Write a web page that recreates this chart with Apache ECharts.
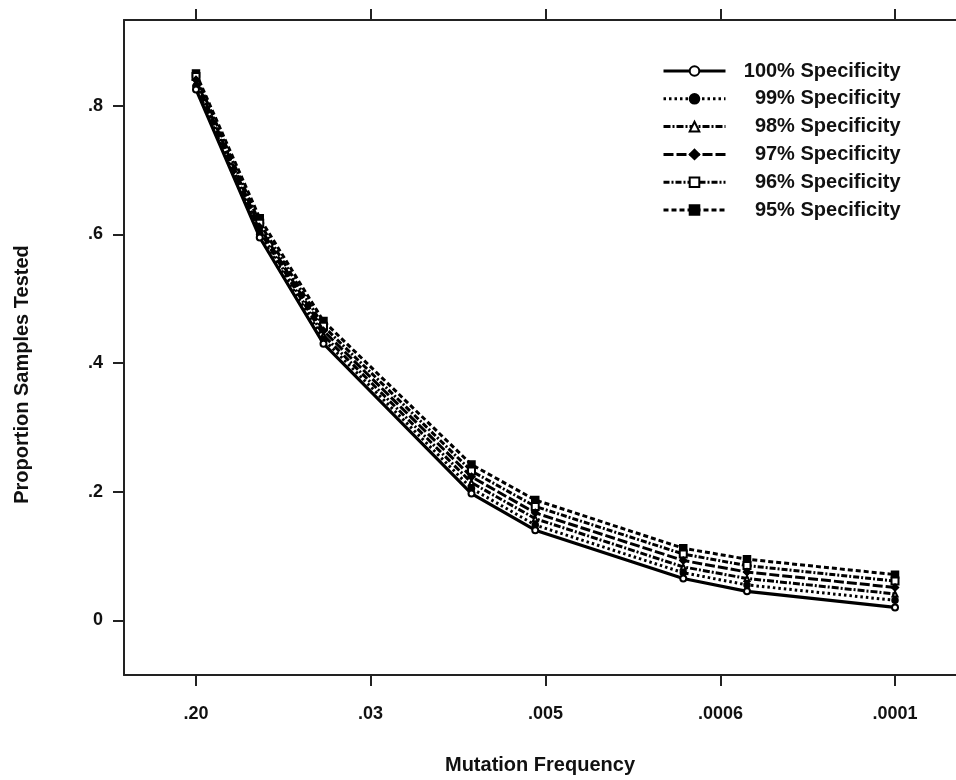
<!DOCTYPE html>
<html>
<head>
<meta charset="utf-8">
<script src="https://cdn.jsdelivr.net/npm/echarts@6/dist/echarts.min.js"></script>
<style>
html,body{margin:0;padding:0;background:#fff;}
#chart{width:956px;height:780px;}
</style>
</head>
<body>
<div id="chart"></div>
<script>
// Mutation frequencies of the data points (plotted on a reversed log scale)
const frequencies = [0.2, 0.1, 0.05, 0.01, 0.005, 0.001, 0.0005, 0.0001];
// Proportion of samples tested, by specificity
const spec100 = [0.825, 0.595, 0.430, 0.197, 0.140, 0.065, 0.045, 0.020];
const spec99  = [0.830, 0.600, 0.437, 0.205, 0.148, 0.074, 0.055, 0.031];
const spec98  = [0.835, 0.605, 0.443, 0.214, 0.158, 0.083, 0.065, 0.041];
const spec97  = [0.840, 0.611, 0.450, 0.223, 0.167, 0.093, 0.075, 0.051];
const spec96  = [0.845, 0.617, 0.457, 0.232, 0.177, 0.103, 0.085, 0.061];
const spec95  = [0.850, 0.625, 0.465, 0.242, 0.187, 0.112, 0.095, 0.071];
const seriesNames = ['100% Specificity','99% Specificity','98% Specificity','97% Specificity','96% Specificity','95% Specificity'];
// x tick positions (-log10 of frequency) and labels
const xTickPositions = [0.699, 1.523, 2.349, 3.176, 4.0];
const xTickLabels = ['.20', '.03', '.005', '.0006', '.0001'];
const yTickValues = [0, 0.2, 0.4, 0.6, 0.8];
const yTickLabels = ['0', '.2', '.4', '.6', '.8'];

const allSeries = [spec100, spec99, spec98, spec97, spec96, spec95];
const toX = f => -Math.log10(f);
const styles = [
  {type: 'solid', symbol: 'emptyCircle', size: 6, width: 3.2},
  {type: [2.5, 3], symbol: 'circle', size: 6, width: 3},
  {type: [7, 2, 2, 2], symbol: 'emptyTriangle', size: 5, width: 3},
  {type: [10, 3], symbol: 'diamond', size: 7, width: 3},
  {type: [6, 2, 2, 2], symbol: 'emptyRect', size: 7, width: 3},
  {type: [5, 3], symbol: 'rect', size: 7, width: 3}
];
const font = '"Liberation Sans", Arial, Helvetica, sans-serif';

const chart = echarts.init(document.getElementById('chart'), null, {renderer: 'canvas'});
const xMin = 0.359, xMax = 4.288;
const labelMap = {};
xTickPositions.forEach((p, i) => { labelMap[p] = xTickLabels[i]; });
const yLabelMap = {};
yTickValues.forEach((v, i) => { yLabelMap[v] = yTickLabels[i]; });

chart.setOption({
  animation: false,
  backgroundColor: '#fff',
  grid: {left: 124, right: 0, top: 20, bottom: 103, containLabel: false},
  legend: {
    show: true,
    orient: 'vertical',
    left: 657,
    top: 56,
    itemWidth: 62,
    itemHeight: 12,
    itemGap: 7.8,
    data: seriesNames,
    lineStyle: {width: 3},
    formatter: name => '{t|' + name + '}',
    textStyle: {
      rich: {
        t: {width: 170, align: 'right', fontSize: 20, fontWeight: 'bold', fontFamily: font, color: '#111', lineHeight: 20}
      }
    }
  },
  xAxis: [{
    type: 'value',
    min: xMin, max: xMax,
    position: 'bottom',
    name: 'Mutation Frequency',
    nameLocation: 'middle',
    nameGap: 80,
    nameTextStyle: {fontSize: 20, fontWeight: 'bold', fontFamily: font, color: '#111'},
    axisLine: {show: true, onZero: false, lineStyle: {color: '#222', width: 2}},
    axisTick: {show: true, customValues: xTickPositions, length: 11, lineStyle: {color: '#222', width: 2}},
    axisLabel: {
      show: true, customValues: xTickPositions, margin: 30,
      fontSize: 18, fontWeight: 'bold', fontFamily: font, color: '#111',
      formatter: v => labelMap[v] !== undefined ? labelMap[v] : ''
    },
    splitLine: {show: false}
  }, {
    type: 'value',
    min: xMin, max: xMax,
    position: 'top',
    axisLine: {show: true, onZero: false, lineStyle: {color: '#222', width: 2}},
    axisTick: {show: true, customValues: xTickPositions, length: 11, lineStyle: {color: '#222', width: 2}},
    axisLabel: {show: false},
    splitLine: {show: false}
  }],
  yAxis: [{
    type: 'value',
    min: -0.085, max: 0.933,
    name: 'Proportion Samples Tested',
    nameLocation: 'middle',
    nameGap: 92,
    nameTextStyle: {fontSize: 20, fontWeight: 'bold', fontFamily: font, color: '#111', padding: [0, 54, 0, 0]},
    axisLine: {show: true, onZero: false, lineStyle: {color: '#222', width: 2}},
    axisTick: {show: true, customValues: yTickValues, length: 11, lineStyle: {color: '#222', width: 2}},
    axisLabel: {
      show: true, customValues: yTickValues, margin: 21,
      fontSize: 18, fontWeight: 'bold', fontFamily: font, color: '#111',
      formatter: v => yLabelMap[v] !== undefined ? yLabelMap[v] : ''
    },
    splitLine: {show: false}
  }],
  series: allSeries.map((vals, i) => ({
    name: seriesNames[i],
    type: 'line',
    xAxisIndex: 0,
    data: vals.map((v, j) => [toX(frequencies[j]), v]),
    symbol: styles[i].symbol,
    symbolSize: styles[i].size,
    showSymbol: true,
    lineStyle: {color: '#000', width: styles[i].width, type: styles[i].type},
    itemStyle: {color: '#000', borderColor: '#000', borderWidth: 1.5},
    z: 10 - i
  }))
});
</script>
</body>
</html>
